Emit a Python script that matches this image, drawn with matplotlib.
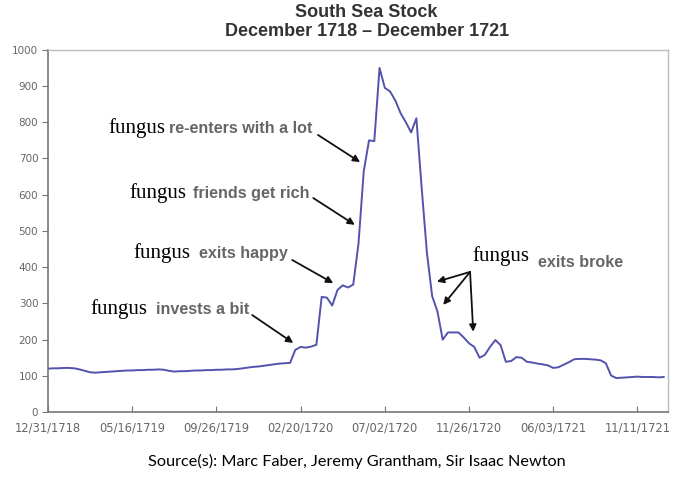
import numpy as np
import matplotlib
matplotlib.use('Agg')
import matplotlib.pyplot as plt

# South Sea stock price (one point every ~5 px)
price = [120, 121, 121, 122, 122, 121, 118, 114, 110, 109,
         110, 111, 112, 113, 114, 115, 115, 116, 116, 117,
         117, 118, 117, 114, 112, 113, 113, 114, 115, 115,
         116, 116, 117, 117, 118, 118, 119, 121, 123, 125,
         126, 128, 130, 132, 134, 135, 136, 172, 180, 178,
         181, 186, 318, 316, 294, 337, 350, 344, 352, 465,
         665, 750, 748, 950, 895, 885, 860, 825, 800, 772,
         811, 620, 440, 320, 278, 200, 220, 220, 220, 206,
         190, 180, 150, 158, 180, 199, 185, 139, 141, 152,
         150, 139, 137, 134, 132, 129, 122, 124, 131, 138,
         146, 147, 147, 146, 145, 143, 135, 101, 94, 95,
         96, 97, 98, 97, 97, 97, 96, 97]

tick_pos = [0, 16, 32, 48, 64, 80, 96, 112]
tick_labels = ['12/31/1718', '05/16/1719', '09/26/1719', '02/20/1720',
               '07/02/1720', '11/26/1720', '06/03/1721', '11/11/1721']

# (gray note, word x, note x, text y, arrow tail, arrow tip)
notes = [
    ('re-enters with a lot', 11.4, 23.0, 771, (51.3, 765), (59.3, 690)),
    ('friends get rich', 15.4, 27.6, 592, (50.4, 591), (58.3, 517)),
    ('exits happy', 16.2, 28.7, 426, (46.4, 420), (54.2, 356)),
    ('invests a bit', 8.0, 20.5, 270, (38.8, 268), (46.6, 191)),
]

fig = plt.figure(figsize=(6.79, 4.93), dpi=100)
ax = fig.add_axes([0.0707, 0.164, 0.913, 0.735])

x = np.arange(len(price))
ax.plot(x, price, color='#5353ad', lw=1.4)

ax.set_xlim(0, 117.8)
ax.set_ylim(0, 1000)
ax.set_yticks(range(0, 1001, 100))
ax.set_xticks(tick_pos)
ax.set_xticklabels(tick_labels)
ax.tick_params(axis='y', labelsize=7.5, labelcolor='#666666', color='#777777',
               direction='out', length=4, pad=3)
ax.tick_params(axis='x', labelsize=8.3, labelcolor='#666666', color='#777777',
               direction='in', length=4, pad=7)
for side in ['left', 'bottom']:
    ax.spines[side].set_color('#777777')
    ax.spines[side].set_linewidth(1.2)
for side in ['top', 'right']:
    ax.spines[side].set_color('#bbbbbb')
    ax.spines[side].set_linewidth(1.0)

serif = 'Liberation Serif'
sans = 'Liberation Sans'

for note, xw, xn, y, tail, tip in notes:
    ax.text(xw, y, 'fungus', fontsize=15, family=serif, color='black', va='baseline')
    ax.text(xn, y, note, fontsize=11.6, family=sans, weight='bold',
            color='#666666', va='baseline')
    ax.annotate('', xy=tip, xytext=tail,
                arrowprops=dict(arrowstyle='-|>', color='#111111', lw=1.3,
                                mutation_scale=10, shrinkA=0, shrinkB=0))

# exits broke, three arrows from one point
ax.text(80.6, 418, 'fungus', fontsize=15, family=serif, color='black', va='baseline')
ax.text(93.1, 401, 'exits broke', fontsize=11.6, family=sans, weight='bold',
        color='#666666', va='baseline')
for tip in [(73.9, 360), (75.1, 296), (80.8, 222)]:
    ax.annotate('', xy=tip, xytext=(80.2, 387),
                arrowprops=dict(arrowstyle='-|>', color='#111111', lw=1.3,
                                mutation_scale=10, shrinkA=0, shrinkB=0))

fig.text(0.54, 0.965, 'South Sea Stock', ha='center', va='baseline',
         fontsize=13, family=sans, weight='bold', color='#333333')
fig.text(0.54, 0.926, 'December 1718 \u2013 December 1721', ha='center', va='baseline',
         fontsize=13, family=sans, weight='bold', color='#333333')
fig.text(0.525, 0.055, 'Source(s): Marc Faber, Jeremy Grantham, Sir Isaac Newton',
         ha='center', va='baseline', fontsize=11.7, family='Lato', color='black')

fig.savefig('out.png', dpi=100)
